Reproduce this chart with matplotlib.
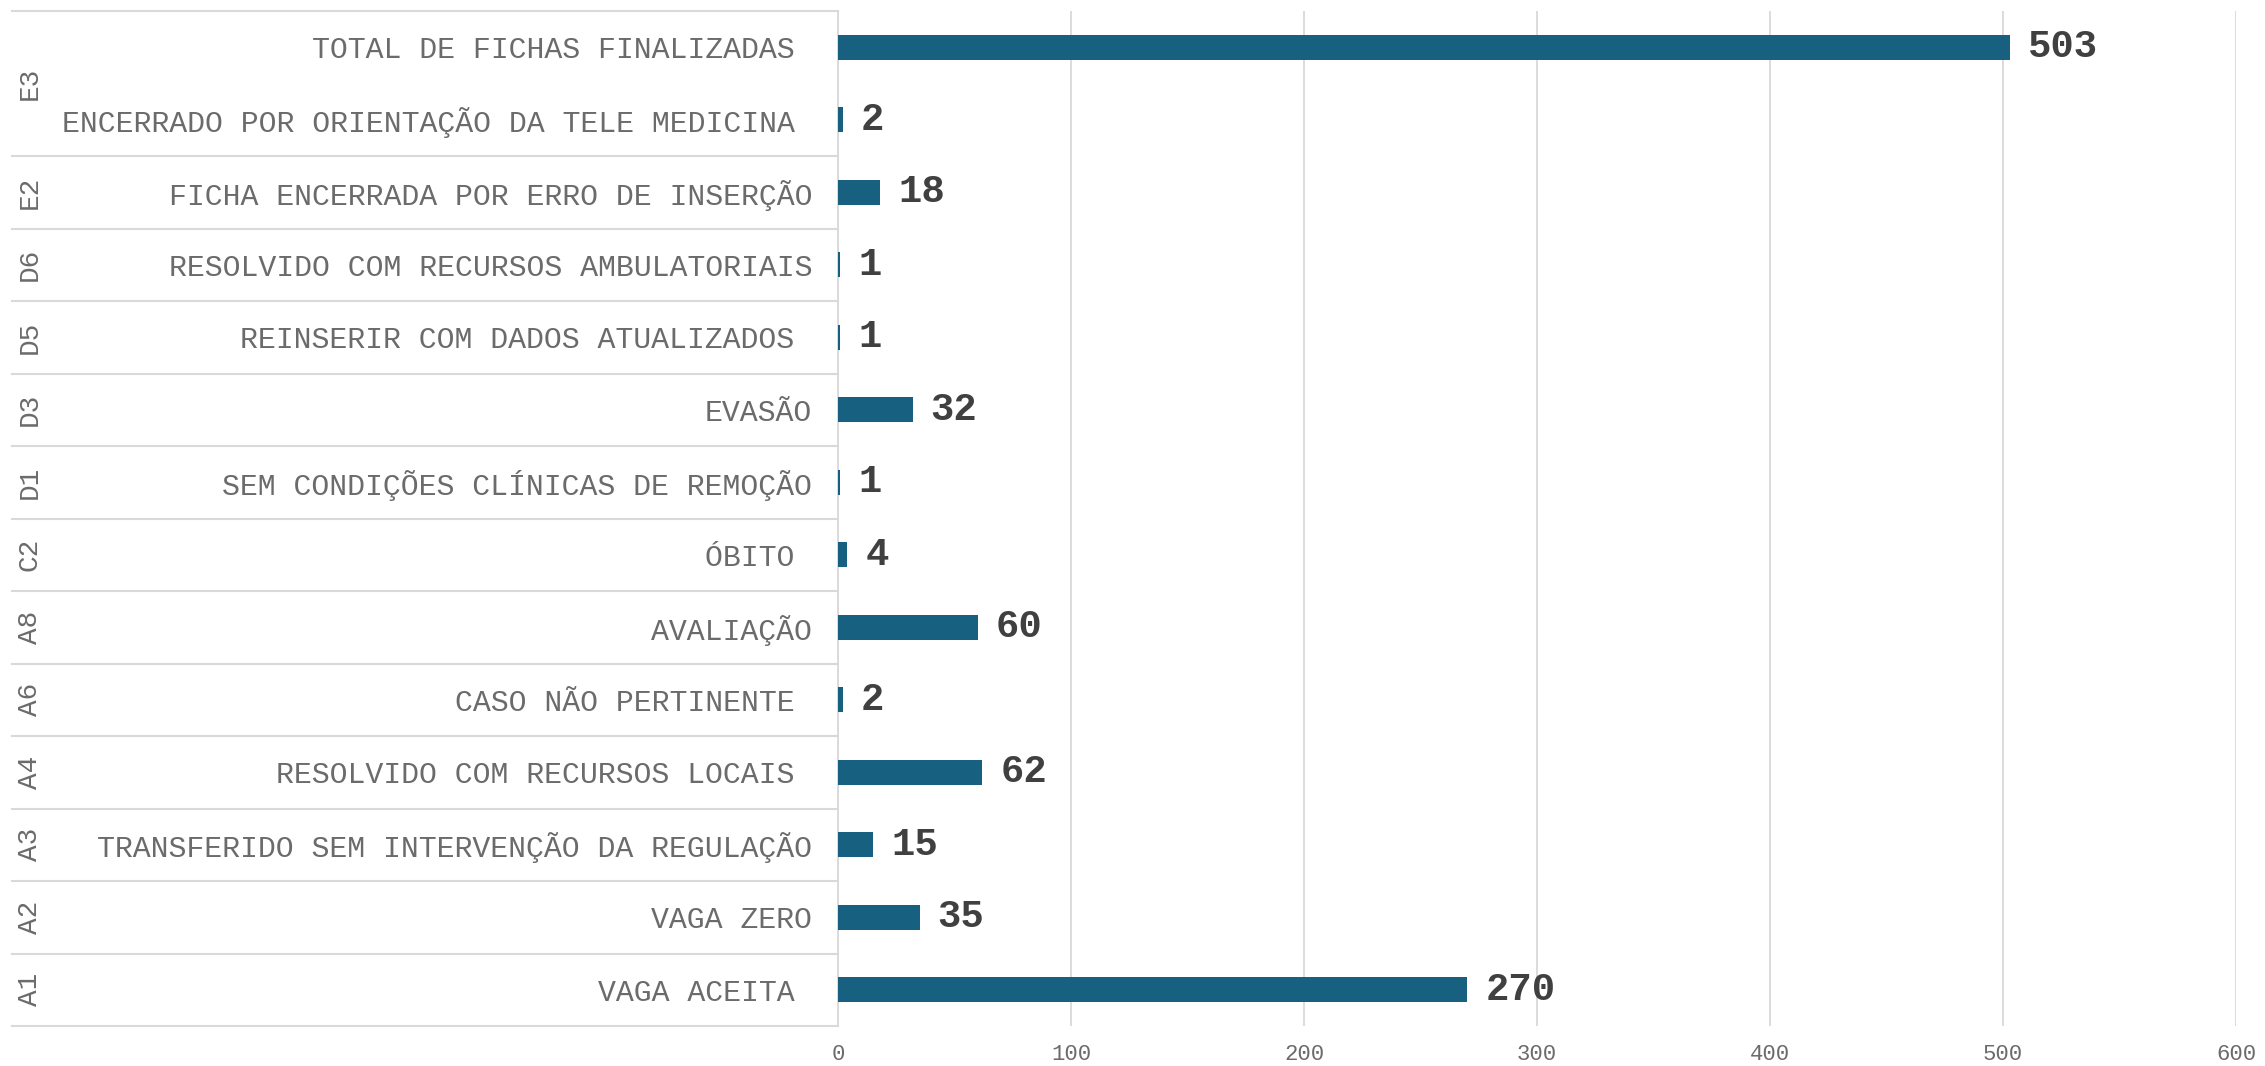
import numpy as np
import matplotlib.pyplot as plt

# Dados (de baixo para cima, como no gráfico)
grupos = ["A1", "A2", "A3", "A4", "A6", "A8", "C2", "D1", "D3", "D5", "D6", "E2", "E3", "E3"]
categorias = [
    "VAGA ACEITA ",
    "VAGA ZERO",
    "TRANSFERIDO SEM INTERVENÇÃO DA REGULAÇÃO",
    "RESOLVIDO COM RECURSOS LOCAIS ",
    "CASO NÃO PERTINENTE ",
    "AVALIAÇÃO",
    "ÓBITO ",
    "SEM CONDIÇÕES CLÍNICAS DE REMOÇÃO",
    "EVASÃO",
    "REINSERIR COM DADOS ATUALIZADOS ",
    "RESOLVIDO COM RECURSOS AMBULATORIAIS",
    "FICHA ENCERRADA POR ERRO DE INSERÇÃO",
    "ENCERRADO POR ORIENTAÇÃO DA TELE MEDICINA ",
    "TOTAL DE FICHAS FINALIZADAS ",
]
valores = [270, 35, 15, 62, 2, 60, 4, 1, 32, 1, 1, 18, 2, 503]
ticks_x = [0, 100, 200, 300, 400, 500, 600]

plt.rcParams['font.family'] = ['Liberation Mono', 'DejaVu Sans Mono']

W, H = 2265, 1066
fig = plt.figure(figsize=(W / 100, H / 100), dpi=100)
x0, x1, ytop, ybot = 838, 2236, 11, 1026
ax = fig.add_axes([x0 / W, 1 - ybot / H, (x1 - x0) / W, (ybot - ytop) / H])

cor_barra = "#18607f"
cinza_linha = "#d9d9d9"
cinza_txt = "#6b6b6b"

y = np.arange(len(valores))
ax.barh(y, valores, height=0.35, color=cor_barra, zorder=3)
for yi, v in zip(y, valores):
    ax.annotate(str(v), (v, yi), xytext=(13, 0), textcoords="offset points",
                va="center", ha="left", fontsize=28, fontweight="bold", color="#404040")

ax.set_xlim(0, 600)
ax.set_ylim(-0.5, len(valores) - 0.5)
ax.set_xticks(ticks_x)
ax.set_yticks(y)
ax.set_yticklabels(categorias)
ax.tick_params(axis="y", length=0, pad=18.5, labelsize=21.5, labelcolor=cinza_txt)
ax.tick_params(axis="x", length=0, pad=13, labelsize=16, labelcolor=cinza_txt)
ax.grid(axis="x", color=cinza_linha, linewidth=1.3, zorder=0)
for s in ["top", "right", "bottom"]:
    ax.spines[s].set_visible(False)
ax.spines["left"].set_color(cinza_linha)
ax.spines["left"].set_linewidth(1.3)

# linhas separadoras e rótulos de grupo à esquerda
tr = ax.get_yaxis_transform()
xa_esq = (12 - x0) / (x1 - x0)
xa_grp = (30 - x0) / (x1 - x0)
limites = [-0.5]
for i in range(len(grupos)):
    if i == len(grupos) - 1 or grupos[i + 1] != grupos[i]:
        limites.append(i + 0.5)
for b in limites:
    ax.plot([xa_esq, 0], [b, b], transform=tr, color=cinza_linha, lw=1.5, clip_on=False)

ini = 0
for i in range(len(grupos)):
    if i == len(grupos) - 1 or grupos[i + 1] != grupos[i]:
        ax.text(xa_grp, (ini + i) / 2, grupos[i], transform=tr, rotation=90,
                ha="center", va="center", fontsize=20, color=cinza_txt)
        ini = i + 1

fig.savefig("out.png", dpi=100, facecolor="white")
